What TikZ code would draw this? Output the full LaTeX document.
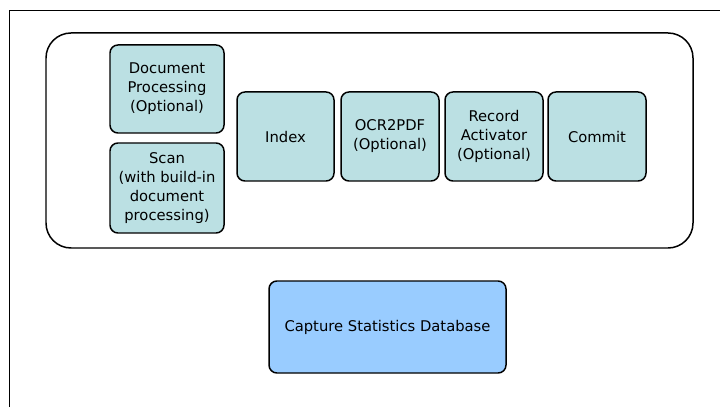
\documentclass[tikz,border=0pt]{standalone}
\usepackage{fontspec}
\setmainfont{DejaVu Sans}
\usepackage{xcolor}
\usepackage{tikz}
\usetikzlibrary{positioning}
\definecolor{stepteal}{RGB}{187,224,227}
\definecolor{dbblue}{RGB}{153,204,255}

\begin{document}
\begin{tikzpicture}[
    stepbox/.style={rectangle, draw=black, fill=stepteal, line width=0.85pt, rounded corners=4.5pt, minimum width=1.96cm, minimum height=1.78cm, align=center, inner sep=1pt, font=\fontsize{8.4}{10.8}\selectfont},
    group/.style={rectangle, draw=black, line width=0.85pt, rounded corners=0.5cm, minimum width=12.94cm, minimum height=4.3cm},
    frame/.style={draw=black, line width=0.5pt}
]
    \useasboundingbox (0,0) rectangle (14.5,8.14);
    \draw[frame] (0.18,0) -- (0.18,7.94) -- (14.4,7.94);

    \node[group] (pipeline) at (7.39,5.33) {};

    \node[stepbox, minimum width=2.28cm, minimum height=1.76cm] (docproc) at (3.34,6.36) {Document\\Processing\\(Optional)};
    \node[stepbox, minimum width=2.28cm, minimum height=1.8cm] (scan) at (3.34,4.38) {Scan\\(with build-in\\document\\processing)};
    \node[stepbox, minimum width=1.94cm] (index) at (5.71,5.41) {Index};
    \node[stepbox] (ocr) at (7.80,5.41) {OCR2PDF\\(Optional)};
    \node[stepbox] (recact) at (9.88,5.41) {Record\\Activator\\(Optional)};
    \node[stepbox] (commit) at (11.94,5.41) {Commit};

    \node[stepbox, fill=dbblue, minimum width=4.74cm, minimum height=1.84cm] (statsdb) at (7.75,1.6) {Capture Statistics Database};
\end{tikzpicture}
\end{document}
